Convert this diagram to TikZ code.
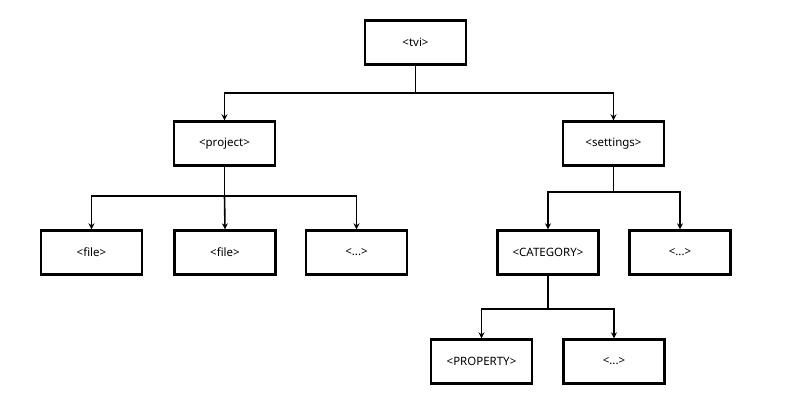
\documentclass[tikz,border=0pt]{standalone}
\usepackage{fontspec}
\setmainfont{Noto Sans}
\usetikzlibrary{arrows.meta}
\begin{document}
\begin{tikzpicture}[x=1pt,y=-1pt,
  box/.style={draw=black,line width=2.4pt,minimum width=101pt,minimum height=44pt,inner sep=0pt,font=\fontsize{11.5}{13}\selectfont},
  conn/.style={line width=1.6pt,draw=black},
  arr/.style={conn,-{Stealth[length=6pt,width=6pt]}}]
\useasboundingbox (0,0) rectangle (810,405);
\node[box] (tvi) at (415.5,42.5) {<tvi>};
\node[box] (project) at (224.5,143.5) {<project>};
\node[box] (settings) at (613.5,143.5) {<settings>};
\node[box] (file1) at (91.5,252.5) {<file>};
\node[box] (file2) at (225,252.5) {<file>};
\node[box] (dots1) at (356.5,252.5) {<...>};
\node[box] (category) at (548,252.5) {<CATEGORY>};
\node[box] (dots2) at (680,252.5) {<...>};
\node[box] (property) at (481.5,361.5) {<PROPERTY>};
\node[box] (dots3) at (614,361.5) {<...>};
\coordinate (b1) at (415.5,92.7);
\coordinate (b2) at (224.5,195.7);
\coordinate (b3) at (613.5,191.7);
\coordinate (b4) at (548,309);
\draw[conn] (tvi.south) -- (b1);
\draw[arr] (b1) -| (project.north);
\draw[arr] (b1) -| (settings.north);
\draw[conn] (project.south) -- (b2);
\draw[arr] (b2) -| (file1.north);
\draw[arr] (b2) -- (file2.north);
\draw[arr] (b2) -| (dots1.north);
\draw[conn] (settings.south) -- (b3);
\draw[arr] (b3) -| (category.north);
\draw[arr] (b3) -| (dots2.north);
\draw[conn] (category.south) -- (b4);
\draw[arr] (b4) -| (property.north);
\draw[arr] (b4) -| (dots3.north);
\end{tikzpicture}
\end{document}
